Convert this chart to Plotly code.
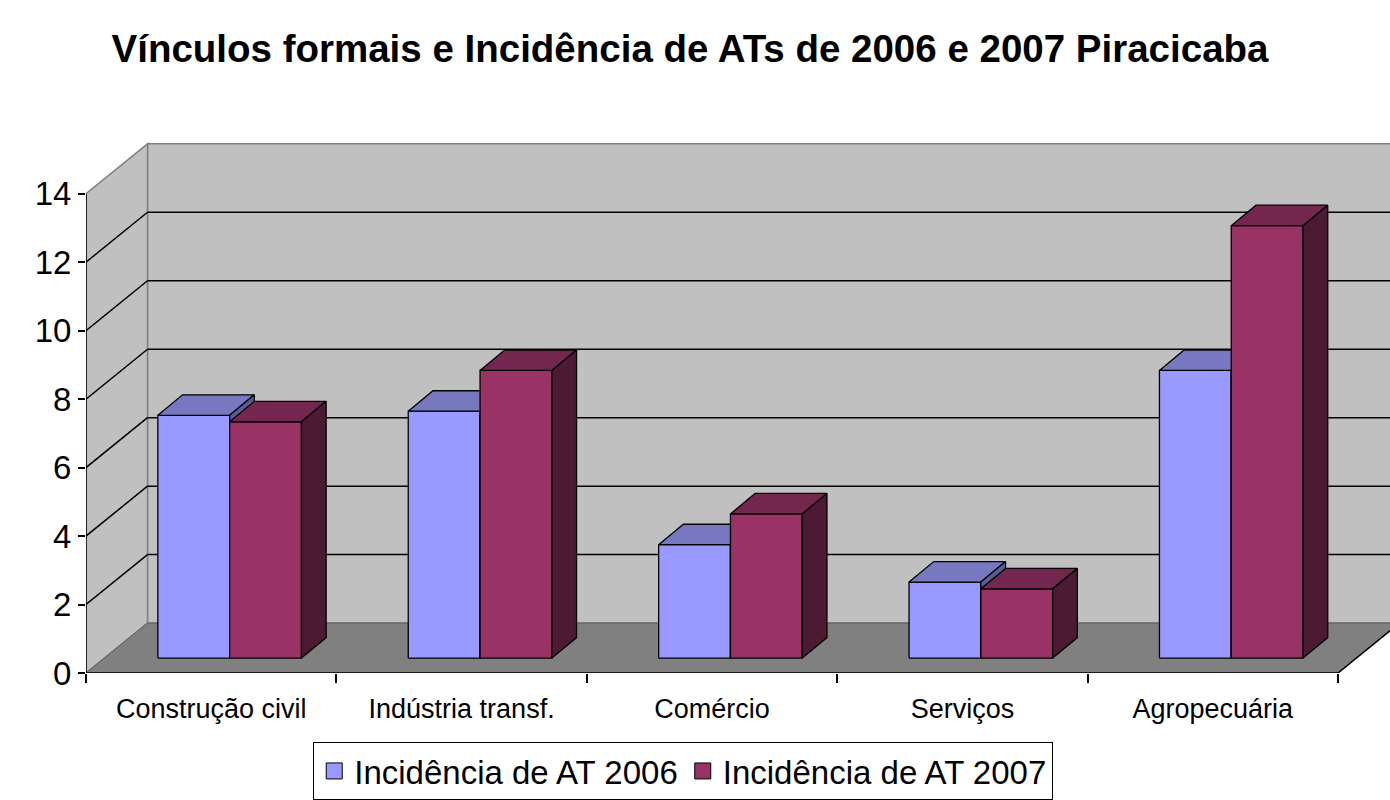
import plotly.graph_objects as go

# ---------------- data ----------------
categories = ["Construção civil", "Indústria transf.", "Comércio", "Serviços", "Agropecuária"]
at_2006 = [7.09, 7.21, 3.31, 2.22, 8.40]
at_2007 = [6.90, 8.40, 4.21, 2.02, 12.63]
series_names = ["Incidência de AT 2006", "Incidência de AT 2007"]
y_ticks = [0, 2, 4, 6, 8, 10, 12, 14]
title_text = "Vínculos formais e Incidência de ATs de 2006 e 2007 Piracicaba"

# ---------------- geometry (pseudo-3D, in data units) ----------------
PX_X = 250.4   # pixels per category
PX_Y = 34.3    # pixels per value unit
WALL_DX = 61.5 / PX_X
WALL_DY = 50.0 / PX_Y
BAR_BASE = 15.0 / PX_Y
BAR_SHIFT = 18.45 / PX_X
BAR_W = 71.8 / PX_X
DEPTH_DX = 24.7 / PX_X
DEPTH_DY = 20.5 / PX_Y
X_MIN = -0.5
X_MAX = -0.5 + 1304 / PX_X
Y_MAX = 532 / PX_Y

FONT = "Liberation Sans, Arial, sans-serif"
FIG_W, FIG_H = 1390, 800

colors = {
    0: dict(front="#9999FF", top="#7878C0", side="#5C5C99"),
    1: dict(front="#993366", top="#73274F", side="#4C1A33"),
}


def faces(values, offset):
    fx, fy, tx, ty, sx, sy = [], [], [], [], [], []
    for i, v in enumerate(values):
        x0 = i + offset
        x1 = x0 + BAR_W
        b = BAR_BASE
        t = BAR_BASE + v
        fx += [x0, x1, x1, x0, x0, None]
        fy += [b, b, t, t, b, None]
        tx += [x0, x1, x1 + DEPTH_DX, x0 + DEPTH_DX, x0, None]
        ty += [t, t, t + DEPTH_DY, t + DEPTH_DY, t, None]
        sx += [x1, x1 + DEPTH_DX, x1 + DEPTH_DX, x1, x1, None]
        sy += [b, b + DEPTH_DY, t + DEPTH_DY, t, b, None]
    return (fx, fy), (tx, ty), (sx, sy)


fig = go.Figure()

series = [at_2006, at_2007]
offsets = [BAR_SHIFT - BAR_W, BAR_SHIFT]
for k, vals in enumerate(series):
    front, top, side = faces(vals, offsets[k])
    for name, (xs, ys) in (("front", front), ("top", top), ("side", side)):
        fig.add_trace(go.Scatter(
            x=xs, y=ys, mode="lines", fill="toself",
            fillcolor=colors[k][name],
            line=dict(color="black", width=1.3),
            hoverinfo="skip", showlegend=False,
        ))

# legend entries
for k, name in enumerate(series_names):
    fig.add_trace(go.Scatter(
        x=[None], y=[None], mode="markers", name=name,
        marker=dict(symbol="square", size=16, color=colors[k]["front"],
                    line=dict(color="black", width=1)),
    ))

shapes = []
# back wall
shapes.append(dict(type="rect", xref="x", yref="y", layer="below",
                   x0=X_MIN + WALL_DX, x1=X_MAX + 0.05, y0=WALL_DY, y1=14 + WALL_DY,
                   fillcolor="#C0C0C0", line=dict(color="#808080", width=1.5)))
# left side wall
shapes.append(dict(type="path", xref="x", yref="y", layer="below",
                   path=f"M {X_MIN},0 L {X_MIN},14 L {X_MIN + WALL_DX},{14 + WALL_DY} "
                        f"L {X_MIN + WALL_DX},{WALL_DY} Z",
                   fillcolor="#C0C0C0", line=dict(color="#808080", width=1.5)))
# floor
shapes.append(dict(type="path", xref="x", yref="y", layer="below",
                   path=f"M {X_MIN},0 L 4.5,0 L {4.5 + WALL_DX},{WALL_DY} "
                        f"L {X_MIN + WALL_DX},{WALL_DY} Z",
                   fillcolor="#808080", line=dict(color="#606060", width=1)))
# floor right edge
shapes.append(dict(type="line", xref="x", yref="y", layer="below",
                   x0=4.5, y0=0, x1=4.5 + WALL_DX, y1=WALL_DY,
                   line=dict(color="black", width=1.5)))
# gridlines
for v in y_ticks[1:-1]:
    shapes.append(dict(type="line", xref="x", yref="y", layer="below",
                       x0=X_MIN + WALL_DX, x1=X_MAX + 0.05, y0=v + WALL_DY, y1=v + WALL_DY,
                       line=dict(color="black", width=1.5)))
    shapes.append(dict(type="line", xref="x", yref="y", layer="below",
                       x0=X_MIN, x1=X_MIN + WALL_DX, y0=v, y1=v + WALL_DY,
                       line=dict(color="black", width=1.5)))
# y axis line
shapes.append(dict(type="line", xref="x", yref="y", layer="below",
                   x0=X_MIN, x1=X_MIN, y0=0, y1=14,
                   line=dict(color="black", width=1.5)))
# x axis line (front floor edge)
shapes.append(dict(type="line", xref="x", yref="y", layer="below",
                   x0=X_MIN, x1=4.5, y0=0, y1=0,
                   line=dict(color="black", width=1.5)))

fig.update_layout(
    width=FIG_W, height=FIG_H,
    margin=dict(l=86, r=0, t=142, b=126),
    paper_bgcolor="white", plot_bgcolor="white",
    font=dict(family=FONT, color="black"),
    title=dict(text=f"<b>{title_text}</b>", x=690 / FIG_W, xanchor="center",
               y=1 - 49 / FIG_H, yanchor="middle", yref="container",
               font=dict(size=38.5, family=FONT, color="black")),
    shapes=shapes,
    showlegend=True,
    legend=dict(orientation="h", x=0.458, xanchor="center", y=-0.1297, yanchor="top",
                bordercolor="black", borderwidth=1, bgcolor="white",
                font=dict(size=33, family=FONT, color="black"),
                itemwidth=30, tracegroupgap=0),
    xaxis=dict(range=[X_MIN, X_MAX], tickvals=list(range(len(categories))),
               ticktext=categories, ticks="", showgrid=False, zeroline=False,
               showline=False, tickfont=dict(size=27, family=FONT, color="black"),
               ticklabelstandoff=17,
               minor=dict(tick0=-0.5, dtick=1, ticks="outside", ticklen=9,
                          tickcolor="black", tickwidth=1.5, showgrid=False),
               fixedrange=True),
    yaxis=dict(range=[0, Y_MAX], tickvals=y_ticks, ticks="outside", ticklen=7,
               tickwidth=1.5, tickcolor="black", showgrid=False, zeroline=False,
               showline=False, tickfont=dict(size=33, family=FONT, color="black"),
               fixedrange=True),
)

fig.write_html(
    "out.html",
    config={"displayModeBar": False},
    post_script="document.body.style.margin='0';document.body.style.overflow='hidden';",
)
